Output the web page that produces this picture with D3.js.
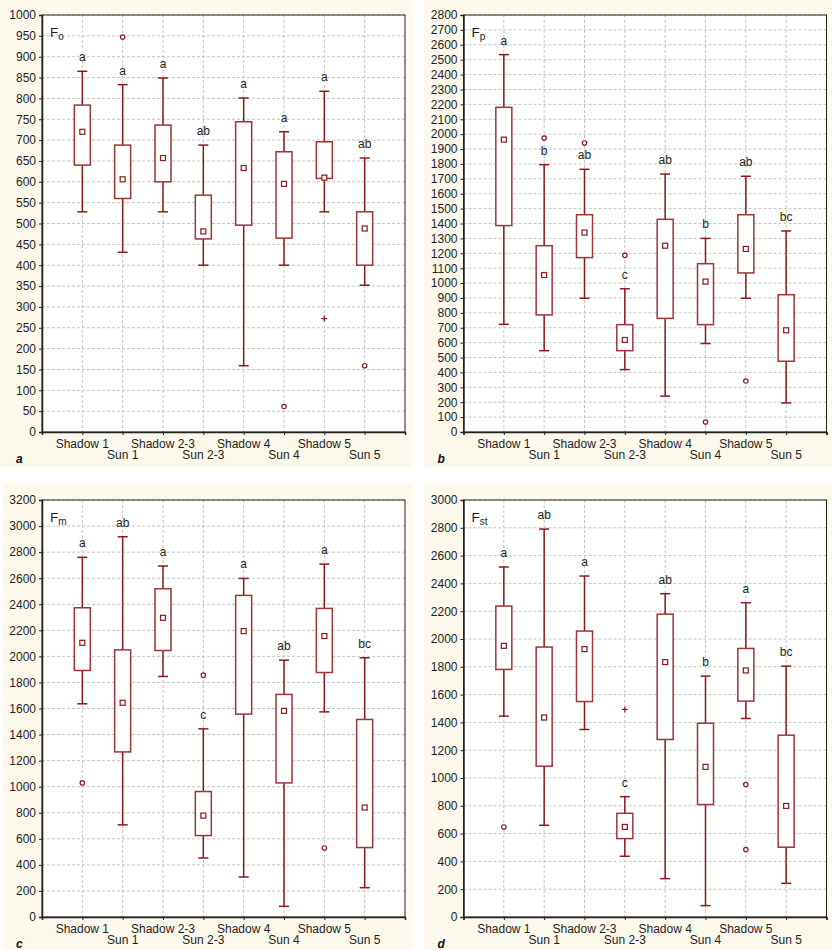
<!DOCTYPE html>
<html>
<head>
<meta charset="utf-8">
<script src="https://cdn.jsdelivr.net/npm/d3@7"></script>
<style>
  body { margin: 0; background: #fff; }
  svg, svg text { font-family: "Liberation Sans", Arial, sans-serif; }
  svg { display: block; }
</style>
</head>
<body>
<svg id="chart" width="832" height="950"></svg>
<script>
// categories, shown on two alternating label rows
const categories = ["Shadow 1", "Sun 1", "Shadow 2-3", "Sun 2-3", "Shadow 4", "Sun 4", "Shadow 5", "Sun 5"];

// Fo
const foWhiskerLow = [528, 431, 528, 400, 159, 400, 528, 352];
const foBoxLow     = [640, 560, 600, 463, 496, 465, 608, 400];
const foMean       = [720, 606, 657, 481, 633, 595, 610, 488];
const foBoxHigh    = [784, 688, 736, 568, 744, 672, 696, 528];
const foWhiskerHigh= [865, 833, 849, 688, 801, 720, 817, 657];
const foOutliers   = [[1, 947], [5, 61], [7, 159]];
const foExtremes   = [[6, 272]];
const foLetters    = ["a", "a", "a", "ab", "a", "a", "a", "ab"];

// Fp
const fpWhiskerLow = [723, 546, 898, 419, 241, 594, 898, 195];
const fpBoxLow     = [1386, 786, 1171, 546, 763, 721, 1068, 475];
const fpMean       = [1963, 1054, 1339, 618, 1251, 1010, 1229, 683];
const fpBoxHigh    = [2180, 1251, 1459, 721, 1428, 1130, 1459, 922];
const fpWhiskerHigh= [2534, 1795, 1764, 962, 1732, 1300, 1717, 1350];
const fpOutliers   = [[1, 1974], [2, 1941], [3, 1186], [5, 67], [6, 342]];
const fpExtremes   = [];
const fpLetters    = ["a", "b", "ab", "c", "ab", "b", "ab", "bc"];

// Fm
const fmWhiskerLow = [1636, 707, 1846, 453, 307, 82, 1574, 225];
const fmBoxLow     = [1892, 1267, 2045, 625, 1557, 1029, 1876, 533];
const fmMean       = [2104, 1644, 2296, 778, 2194, 1582, 2156, 840];
const fmBoxHigh    = [2373, 2050, 2519, 963, 2468, 1708, 2368, 1516];
const fmWhiskerHigh= [2760, 2918, 2693, 1444, 2598, 1971, 2708, 1989];
const fmOutliers   = [[0, 1029], [3, 1856], [6, 530]];
const fmExtremes   = [];
const fmLetters    = ["a", "ab", "a", "c", "a", "ab", "a", "bc"];

// Fst
const fstWhiskerLow = [1445, 660, 1349, 437, 276, 82, 1428, 242];
const fstBoxLow     = [1781, 1085, 1550, 564, 1277, 809, 1553, 502];
const fstMean       = [1951, 1435, 1927, 648, 1834, 1080, 1774, 799];
const fstBoxHigh    = [2237, 1942, 2057, 746, 2179, 1394, 1932, 1308];
const fstWhiskerHigh= [2518, 2791, 2453, 866, 2326, 1733, 2261, 1805];
const fstOutliers   = [[0, 648], [6, 953], [6, 485]];
const fstExtremes   = [[3, 1493]];
const fstLetters    = ["a", "ab", "a", "c", "ab", "b", "a", "bc"];

const panels = [
  { id: "a", name: "F", sub: "o",  max: 1000, step: 50,  lo: foWhiskerLow,  q1: foBoxLow,  mean: foMean,  q3: foBoxHigh,  hi: foWhiskerHigh,  outliers: foOutliers,  extremes: foExtremes,  letters: foLetters,  bx: 0,   by: 0,   bw: 413, left: 42,    top: 15 },
  { id: "b", name: "F", sub: "p",  max: 2800, step: 100, lo: fpWhiskerLow,  q1: fpBoxLow,  mean: fpMean,  q3: fpBoxHigh,  hi: fpWhiskerHigh,  outliers: fpOutliers,  extremes: fpExtremes,  letters: fpLetters,  bx: 424, by: 0,   bw: 408, left: 463.5, top: 15 },
  { id: "c", name: "F", sub: "m",  max: 3200, step: 200, lo: fmWhiskerLow,  q1: fmBoxLow,  mean: fmMean,  q3: fmBoxHigh,  hi: fmWhiskerHigh,  outliers: fmOutliers,  extremes: fmExtremes,  letters: fmLetters,  bx: 3,   by: 483, bw: 410, left: 42,    top: 500 },
  { id: "d", name: "F", sub: "st", max: 3000, step: 200, lo: fstWhiskerLow, q1: fstBoxLow, mean: fstMean, q3: fstBoxHigh, hi: fstWhiskerHigh, outliers: fstOutliers, extremes: fstExtremes, letters: fstLetters, bx: 424, by: 483, bw: 408, left: 463.5, top: 500 }
];

const W = 363, H = 417;
const red = "#8b1a1a";
const boxRed = "#9e3535";
const txt = "#1e1e1e";
const svg = d3.select("#chart");

panels.forEach(p => {
  // cream panel background
  svg.append("rect")
    .attr("x", p.bx).attr("y", p.by)
    .attr("width", p.bw).attr("height", 467)
    .attr("fill", "#fdf8ec");

  const g = svg.append("g").attr("transform", `translate(${p.left},${p.top})`);
  const x = d3.scaleLinear().domain([0, 9]).range([0, W]);
  const y = d3.scaleLinear().domain([0, p.max]).range([H, 0]);
  const ticks = d3.range(0, p.max + 1, p.step);

  g.append("rect").attr("width", W).attr("height", H).attr("fill", "#fff");

  // grid
  g.append("g").selectAll("line").data(ticks.slice(1)).enter().append("line")
    .attr("x1", 0).attr("x2", W)
    .attr("y1", d => y(d)).attr("y2", d => y(d))
    .style("stroke", "#c4c4c4").style("stroke-dasharray", "3,2");
  g.append("g").selectAll("line").data(categories).enter().append("line")
    .attr("x1", (d, i) => x(i + 1)).attr("x2", (d, i) => x(i + 1))
    .attr("y1", 0).attr("y2", H)
    .style("stroke", "#c4c4c4").style("stroke-dasharray", "3,2");

  // frame
  g.append("rect").attr("width", W).attr("height", H)
    .attr("fill", "none").style("stroke", "#222").style("stroke-width", 1);

  // y axis
  const yAxis = g.append("g")
    .call(d3.axisLeft(y).tickValues(ticks).tickFormat(d3.format("d")).tickSize(3).tickPadding(3));
  yAxis.attr("font-family", null);
  yAxis.select(".domain").style("stroke", "#222").style("stroke-width", 1.5);
  yAxis.selectAll(".tick line").style("stroke", "#222");
  yAxis.selectAll("text").style("font-size", "12px").style("fill", txt);

  // x axis
  const xAxis = g.append("g").attr("transform", `translate(0,${H})`)
    .call(d3.axisBottom(x).tickValues(d3.range(0, 10)).tickSize(3).tickFormat(""));
  xAxis.select(".domain").style("stroke", "#222").style("stroke-width", 1.5);
  xAxis.selectAll(".tick line").style("stroke", "#222");

  g.append("g").selectAll("text").data(categories).enter().append("text")
    .attr("x", (d, i) => x(i + 1))
    .attr("y", (d, i) => H + (i % 2 === 0 ? 15.5 : 27))
    .attr("text-anchor", "middle")
    .style("font-size", "12px").style("fill", txt)
    .text(d => d);

  // boxes
  const idx = d3.range(categories.length);
  const boxes = g.append("g");
  boxes.selectAll("line.w").data(idx).enter().append("line")
    .attr("x1", i => x(i + 1)).attr("x2", i => x(i + 1))
    .attr("y1", i => y(p.lo[i])).attr("y2", i => y(p.hi[i]))
    .style("stroke", red).style("stroke-width", 1.5);
  ["lo", "hi"].forEach(k => {
    boxes.selectAll("line.cap" + k).data(idx).enter().append("line")
      .attr("x1", i => x(i + 1) - 5).attr("x2", i => x(i + 1) + 5)
      .attr("y1", i => y(p[k][i])).attr("y2", i => y(p[k][i]))
      .style("stroke", red).style("stroke-width", 1.5);
  });
  boxes.selectAll("rect.box").data(idx).enter().append("rect")
    .attr("x", i => x(i + 1) - 8).attr("width", 16)
    .attr("y", i => y(p.q3[i])).attr("height", i => y(p.q1[i]) - y(p.q3[i]))
    .attr("fill", "#fff").style("stroke", boxRed).style("stroke-width", 1.5);
  boxes.selectAll("rect.mean").data(idx).enter().append("rect")
    .attr("x", i => x(i + 1) - 2.5).attr("y", i => y(p.mean[i]) - 2.5)
    .attr("width", 5).attr("height", 5)
    .attr("fill", "#fff").style("stroke", red).style("stroke-width", 1.2);

  // outliers and extremes
  boxes.selectAll("circle").data(p.outliers).enter().append("circle")
    .attr("cx", d => x(d[0] + 1)).attr("cy", d => y(d[1])).attr("r", 2.2)
    .attr("fill", "#fff").style("stroke", red).style("stroke-width", 1.2);
  p.extremes.forEach(d => {
    boxes.append("path")
      .attr("d", `M${x(d[0] + 1) - 3},${y(d[1])}h6M${x(d[0] + 1)},${y(d[1]) - 3}v6`)
      .style("stroke", red).style("stroke-width", 1.2);
  });

  // significance letters
  g.append("g").selectAll("text").data(idx).enter().append("text")
    .attr("x", i => x(i + 1)).attr("y", i => y(p.hi[i]) - 10)
    .attr("text-anchor", "middle")
    .style("font-size", "12px").style("fill", txt)
    .text(i => p.letters[i]);

  // title
  const t = g.append("text").attr("x", 8).attr("y", 22)
    .style("font-size", "13.5px").style("fill", txt);
  t.append("tspan").text(p.name);
  t.append("tspan").attr("dy", 3).style("font-size", "10px").text(p.sub);

  // panel letter
  g.append("text").attr("x", -26).attr("y", H + 31)
    .style("font-size", "12px").style("font-weight", "bold").style("font-style", "italic")
    .style("fill", "#111").text(p.id);
});
</script>
</body>
</html>
